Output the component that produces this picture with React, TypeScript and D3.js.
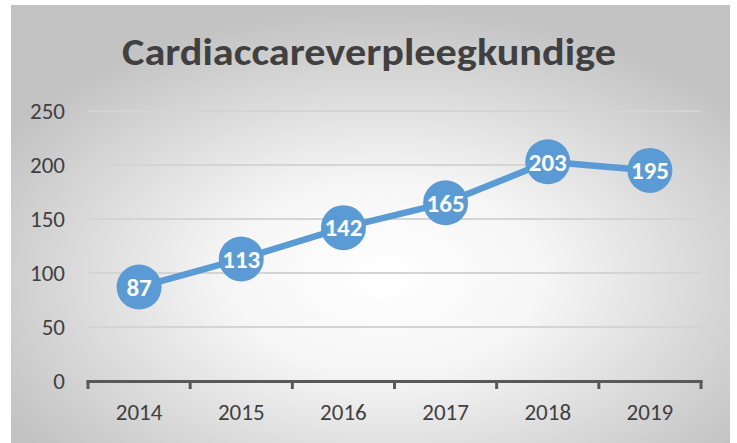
import React, { useEffect, useRef } from 'react';
import * as d3 from 'd3';

const years = ['2014', '2015', '2016', '2017', '2018', '2019'];
const values = [87, 113, 142, 165, 203, 195];
const yTicks = [0, 50, 100, 150, 200, 250];
const title = 'Cardiaccareverpleegkundige';

const App: React.FC = () => {
  const svgRef = useRef<SVGSVGElement>(null);

  useEffect(() => {
    if (!svgRef.current) return;
    const svg = d3.select(svgRef.current);
    svg.selectAll('*').remove();

    const width = 737;
    const height = 443;
    const font = 'Carlito, Calibri, Lato, "Open Sans", sans-serif';

    const defs = svg.append('defs');
    const grad = defs.append('radialGradient')
      .attr('id', 'bg')
      .attr('cx', '52%').attr('cy', '62%').attr('r', '62%');
    grad.append('stop').attr('offset', '0%').attr('stop-color', '#ffffff');
    grad.append('stop').attr('offset', '35%').attr('stop-color', '#f6f6f6');
    grad.append('stop').attr('offset', '100%').attr('stop-color', '#c2c2c2');

    svg.append('rect').attr('width', width).attr('height', height).attr('fill', '#ffffff');
    svg.append('rect')
      .attr('x', 11).attr('y', 5).attr('width', 719).attr('height', 438)
      .attr('fill', 'url(#bg)');

    const x = d3.scaleBand<string>().domain(years).range([88, 701]);
    const y = d3.scaleLinear().domain([0, 250]).range([381, 111]);

    // gridlines
    svg.append('g').selectAll('line')
      .data(yTicks.filter(t => t > 0))
      .enter().append('line')
      .attr('x1', 88).attr('x2', 701)
      .attr('y1', d => y(d)).attr('y2', d => y(d))
      .style('stroke', '#d4d4d4').style('stroke-width', 2);

    // y labels
    svg.append('g').selectAll('text')
      .data(yTicks)
      .enter().append('text')
      .attr('x', 65).attr('y', d => y(d) + 7.5)
      .attr('text-anchor', 'end')
      .style('font-family', font).style('font-size', '23px')
      .style('fill', '#404040')
      .text(d => d);

    // x axis
    svg.append('line')
      .attr('x1', 86.5).attr('x2', 702.5).attr('y1', 381.5).attr('y2', 381.5)
      .style('stroke', '#595959').style('stroke-width', 3);
    const bounds = years.map(yr => x(yr) as number).concat([701]);
    svg.append('g').selectAll('line')
      .data(bounds)
      .enter().append('line')
      .attr('x1', d => d).attr('x2', d => d)
      .attr('y1', 381).attr('y2', 389)
      .style('stroke', '#595959').style('stroke-width', 3);

    svg.append('g').selectAll('text')
      .data(years)
      .enter().append('text')
      .attr('x', d => (x(d) as number) + x.bandwidth() / 2)
      .attr('y', 420)
      .attr('text-anchor', 'middle')
      .style('font-family', font).style('font-size', '23px')
      .style('fill', '#404040')
      .text(d => d);

    // title
    svg.append('text')
      .attr('x', 369).attr('y', 65)
      .attr('text-anchor', 'middle')
      .attr('textLength', 494).attr('lengthAdjust', 'spacingAndGlyphs')
      .style('font-family', font).style('font-size', '38px').style('font-weight', 'bold')
      .style('fill', '#404040')
      .text(title);

    const px = (i: number) => (x(years[i]) as number) + x.bandwidth() / 2;

    const line = d3.line<number>()
      .x((_, i) => px(i))
      .y(d => y(d));

    svg.append('path')
      .datum(values)
      .attr('d', line)
      .style('fill', 'none')
      .style('stroke', '#5b9bd5')
      .style('stroke-width', 6.5)
      .style('stroke-linejoin', 'round');

    const pts = svg.append('g').selectAll('g')
      .data(values)
      .enter().append('g')
      .attr('transform', (d, i) => `translate(${px(i)},${y(d)})`);

    pts.append('circle').attr('r', 22.5).style('fill', '#5b9bd5');
    pts.append('text')
      .attr('text-anchor', 'middle').attr('dy', '0.35em')
      .style('font-family', font).style('font-size', '25px').style('font-weight', 'bold')
      .style('fill', '#ffffff')
      .text(d => d);
  }, []);

  return (
    <svg ref={svgRef} width={737} height={443}
      style={{ position: 'absolute', left: 0, top: 0 }} />
  );
};

export default App;
